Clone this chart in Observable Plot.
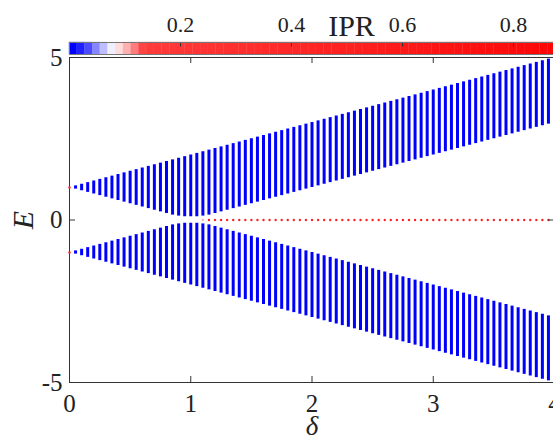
<!DOCTYPE html>
<html><head><meta charset="utf-8">
<script src="https://cdn.jsdelivr.net/npm/d3@7"></script>
<script src="https://cdn.jsdelivr.net/npm/@observablehq/plot@0.6"></script>
<style>
body{margin:0;background:#fff;}
#wrap{position:relative;width:553px;height:439px;overflow:hidden;background:#fff;}
#wrap svg{position:absolute;left:0;top:0;}
</style></head>
<body><div id="wrap"></div>
<script>
// ---- data ----
const deltas = [0.05,0.1,0.15,0.2,0.25,0.3,0.35,0.4,0.45,0.5,0.55,0.6,0.65,0.7,0.75,0.8,0.85,0.9,0.95,1.0,1.05,1.1,1.15,1.2,1.25,1.3,1.35,1.4,1.45,1.5,1.55,1.6,1.65,1.7,1.75,1.8,1.85,1.9,1.95,2.0,2.05,2.1,2.15,2.2,2.25,2.3,2.35,2.4,2.45,2.5,2.55,2.6,2.65,2.7,2.75,2.8,2.85,2.9,2.95,3.0,3.05,3.1,3.15,3.2,3.25,3.3,3.35,3.4,3.45,3.5,3.55,3.6,3.65,3.7,3.75,3.8,3.85,3.9,3.95,4.0];
const bandTop = [1.05,1.1,1.15,1.2,1.25,1.3,1.35,1.4,1.45,1.5,1.55,1.6,1.65,1.7,1.75,1.8,1.85,1.9,1.95,2.0,2.05,2.1,2.15,2.2,2.25,2.3,2.35,2.4,2.45,2.5,2.55,2.6,2.65,2.7,2.75,2.8,2.85,2.9,2.95,3.0,3.05,3.1,3.15,3.2,3.25,3.3,3.35,3.4,3.45,3.5,3.55,3.6,3.65,3.7,3.75,3.8,3.85,3.9,3.95,4.0,4.05,4.1,4.15,4.2,4.25,4.3,4.35,4.4,4.45,4.5,4.55,4.6,4.65,4.7,4.75,4.8,4.85,4.9,4.95,5.0];
const bandBottom = [0.95,0.9,0.85,0.8,0.75,0.7,0.65,0.6,0.55,0.5,0.45,0.4,0.35,0.3,0.25,0.2,0.15,0.12,0.1,0.1,0.1,0.12,0.15,0.2,0.25,0.3,0.35,0.4,0.45,0.5,0.55,0.6,0.65,0.7,0.75,0.8,0.85,0.9,0.95,1.0,1.05,1.1,1.15,1.2,1.25,1.3,1.35,1.4,1.45,1.5,1.55,1.6,1.65,1.7,1.75,1.8,1.85,1.9,1.95,2.0,2.05,2.1,2.15,2.2,2.25,2.3,2.35,2.4,2.45,2.5,2.55,2.6,2.65,2.7,2.75,2.8,2.85,2.9,2.95,3.0];
const bandIPR = 0.005;
const zeroDeltas = [1.1,1.15,1.2,1.25,1.3,1.35,1.4,1.45,1.5,1.55,1.6,1.65,1.7,1.75,1.8,1.85,1.9,1.95,2.0,2.05,2.1,2.15,2.2,2.25,2.3,2.35,2.4,2.45,2.5,2.55,2.6,2.65,2.7,2.75,2.8,2.85,2.9,2.95,3.0,3.05,3.1,3.15,3.2,3.25,3.3,3.35,3.4,3.45,3.5,3.55,3.6,3.65,3.7,3.75,3.8,3.85,3.9,3.95,4.0];
const zeroIPR = [0.11].concat(new Array(58).fill(0.5));
const edgeDeltas = [0, 0];
const edgeE = [1, -1];
const edgeIPR = [0.5, 0.5];
const xTicks = [0, 1, 2, 3, 4];
const yTicks = [-5, 0, 5];
const cbTicks = [0.2, 0.4, 0.6, 0.8];
const cbDomain = [0, 0.872];
// colormap (style): first levels blue -> white -> red, then red
const cmapHead = ["#0000ff","#2020ff","#4a4aff","#8585ff","#bdbdff","#efefff","#ffdcdc","#ffb0b0","#ff7c7c","#ff4444"];
const cbStep = 0.0139;
const cmapTailN = 54;
const cmap = cmapHead.concat(d3.range(cmapTailN).map(i => d3.interpolateRgb("#ff3a3a", "#ff0505")(i / (cmapTailN - 1))));
const colorOf = v => cmap[Math.max(0, Math.min(cmap.length - 1, Math.floor(v / cbStep)))];

const bars = deltas.map((d, i) => ({d, lo: bandBottom[i], hi: bandTop[i]}));
const zeros = zeroDeltas.map((d, i) => ({d, ipr: zeroIPR[i]}));
const edges = edgeDeltas.map((d, i) => ({d, e: edgeE[i], ipr: edgeIPR[i]}));
const blocks = cmap.map((c, i) => ({x1: i * cbStep, x2: (i + 1) * cbStep, c}));

const serif = "'Liberation Serif','Times New Roman',serif";
const axisColor = "#333";
const pxX = 1 / 121.3, pxY = 1 / 32.5;

const main = Plot.plot({
  width: 553, height: 439,
  marginTop: 57, marginLeft: 69, marginRight: -1, marginBottom: 57,
  style: {fontFamily: serif, background: "transparent", overflow: "visible"},
  x: {domain: [0, 4], label: null},
  y: {domain: [-5, 5], label: null},
  marks: [
    Plot.ruleX(bars, {x: "d", y1: "lo", y2: "hi", stroke: colorOf(bandIPR), strokeWidth: 3}),
    Plot.ruleX(bars, {x: "d", y1: d => -d.lo, y2: d => -d.hi, stroke: colorOf(bandIPR), strokeWidth: 3}),
    Plot.dot(zeros, {x: "d", y: 0, r: 1.2, fill: d => colorOf(d.ipr), stroke: null}),
    Plot.ruleY([5, -5], {x1: 0, x2: 4, stroke: axisColor, strokeWidth: 1}),
    Plot.ruleX([0], {y1: -5, y2: 5, stroke: axisColor, strokeWidth: 1}),
    Plot.ruleX(xTicks, {x: d => d, y1: -5, y2: -5 + 6 * pxY, stroke: axisColor}),
    Plot.ruleX(xTicks, {x: d => d, y1: 5, y2: 5 - 6 * pxY, stroke: axisColor}),
    Plot.ruleY(yTicks, {y: d => d, x1: 0, x2: 6 * pxX, stroke: axisColor}),
    Plot.ruleY(yTicks, {y: d => d, x1: 4 - 6 * pxX, x2: 4, stroke: axisColor}),
    Plot.dot(edges, {x: "d", y: "e", r: 1.2, fill: d => colorOf(d.ipr), stroke: null}),
    Plot.axisX({ticks: xTicks, tickSize: 0, tickPadding: 12, fontSize: 25, tickFormat: d => String(d), color: "#222", label: null}),
    Plot.axisY({ticks: yTicks, tickSize: 0, tickPadding: 7, fontSize: 25, tickFormat: d => String(d), color: "#222", label: null}),
    Plot.text(["δ"], {frameAnchor: "bottom", dy: 52, lineAnchor: "bottom", fontSize: 27, fontStyle: "italic", fill: "#222", fontFamily: serif}),
    Plot.text(["E"], {frameAnchor: "left", dx: -46, rotate: -90, textAnchor: "middle", lineAnchor: "middle", fontSize: 30, fontStyle: "italic", fill: "#222", fontFamily: serif})
  ]
});

const bar = Plot.plot({
  width: 553, height: 57,
  marginTop: 42, marginBottom: 3, marginLeft: 69, marginRight: 0,
  style: {fontFamily: serif, background: "transparent", overflow: "visible"},
  x: {domain: cbDomain, label: null},
  y: {domain: [0, 1], axis: null},
  marks: [
    Plot.rect(blocks, {x1: "x1", x2: "x2", y1: 0, y2: 1, fill: "c", stroke: "c", strokeWidth: 0.3}),
    Plot.ruleX(cbTicks, {x: d => d, y1: 1, y2: 1 - 4.5 / 12, stroke: "#333"}),
    Plot.frame({stroke: "#777"}),
    Plot.axisX({anchor: "top", ticks: cbTicks, tickSize: 0, tickPadding: 11, fontSize: 22, tickFormat: d => String(d), color: "#222", label: null}),
    Plot.text(["IPR"], {frameAnchor: "top", dx: 40, dy: -7, lineAnchor: "bottom", fontSize: 30, fill: "#222", fontFamily: serif})
  ]
});

const wrap = document.getElementById("wrap");
wrap.appendChild(main);
wrap.appendChild(bar);
</script>
</body></html>
